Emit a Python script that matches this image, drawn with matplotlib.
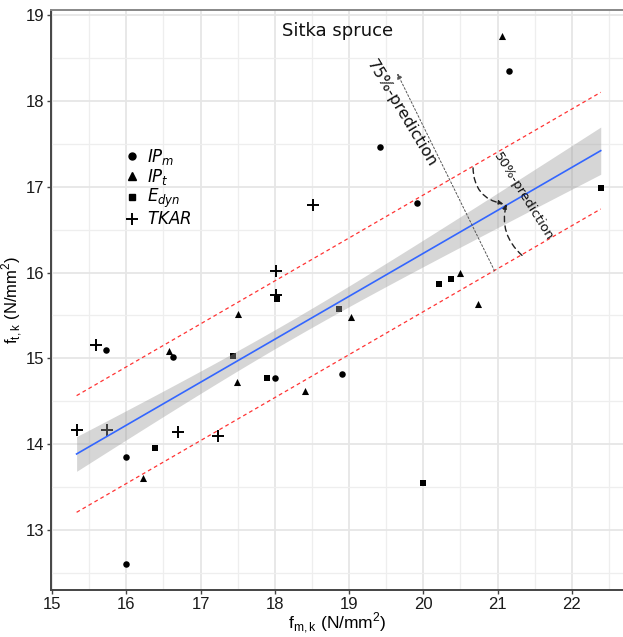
import numpy as np
import matplotlib
matplotlib.use("Agg")
import matplotlib.pyplot as plt
from matplotlib.lines import Line2D

# ---------------- data ----------------
ipm_x = [15.73, 16.63, 15.99, 15.99, 18.00, 18.91, 19.42, 19.91, 21.16]
ipm_y = [15.10, 15.02, 13.85, 12.60, 14.77, 14.82, 17.46, 16.81, 18.35]
ipt_x = [16.58, 17.50, 17.49, 16.22, 18.41, 19.03, 20.50, 20.74, 21.06]
ipt_y = [15.08, 15.52, 14.72, 13.60, 14.62, 15.48, 15.99, 15.63, 18.76]
edyn_x = [16.39, 17.44, 18.03, 17.90, 18.86, 20.21, 20.37, 19.99, 22.39]
edyn_y = [13.95, 15.03, 15.69, 14.77, 15.57, 15.87, 15.93, 13.55, 16.98]
tkar_x = [15.33, 15.59, 15.74, 16.70, 17.24, 18.01, 18.01, 18.51]
tkar_y = [14.16, 15.15, 14.16, 14.14, 14.10, 16.02, 15.74, 16.79]
series_labels = [r"$IP_m$", r"$IP_t$", r"$E_{dyn}$", r"$TKAR$"]
pred_offset = 0.68          # half-width of the prediction band
band_mult = 0.68            # multiplier of the standard error for the grey band
x_ticks = [15, 16, 17, 18, 19, 20, 21, 22]
y_ticks = [13, 14, 15, 16, 17, 18, 19]
title = "Sitka spruce"
xlabel = r"f$_{\mathrm{m,k}}$ (N/mm$^{2}$)"
ylabel = r"f$_{\mathrm{t,k}}$ (N/mm$^{2}$)"

plt.rcParams["mathtext.fontset"] = "custom"
plt.rcParams["mathtext.rm"] = "Liberation Sans"
plt.rcParams["mathtext.it"] = "DejaVu Sans:italic"

W, H = 623, 637
fig = plt.figure(figsize=(W / 100, H / 100), dpi=100)
ax = fig.add_axes([51 / W, (H - 590) / H, (623 - 51) / W, 580 / H])

ax.set_xlim(14.985, 22.69)
ax.set_ylim(12.30, 19.06)

# grid
ax.set_xticks(x_ticks)
ax.set_yticks(y_ticks)
ax.set_xticks(np.arange(15.5, 22.7, 1.0), minor=True)
ax.set_yticks(np.arange(12.5, 19.1, 1.0), minor=True)
ax.grid(True, which="major", color="#e6e6e6", lw=1.3, zorder=0)
ax.grid(True, which="minor", color="#eeeeee", lw=0.9, zorder=0)
ax.set_axisbelow(True)

# points
ms = dict(color="black", zorder=2, linewidths=0)
ax.scatter(ipm_x, ipm_y, marker="o", s=22, **ms)
ax.scatter(ipt_x, ipt_y, marker="^", s=26, **ms)
ax.scatter(edyn_x, edyn_y, marker="s", s=22, **ms)
ax.scatter(tkar_x, tkar_y, marker="+", s=70, color="black", linewidths=1.4, zorder=2)

# regression on pooled data
allx = np.array(ipm_x + ipt_x + edyn_x + tkar_x)
ally = np.array(ipm_y + ipt_y + edyn_y + tkar_y)
b, a = np.polyfit(allx, ally, 1)
n = len(allx)
resid = ally - (a + b * allx)
s = np.sqrt(np.sum(resid ** 2) / (n - 2))
sxx = np.sum((allx - allx.mean()) ** 2)
xx = np.linspace(allx.min(), allx.max(), 200)
yy = a + b * xx
se = s * np.sqrt(1 / n + (xx - allx.mean()) ** 2 / sxx)
ax.fill_between(xx, yy - band_mult * se, yy + band_mult * se, color="#999999", alpha=0.4,
                lw=0, zorder=3)
ax.plot(xx, yy, color="#3366FF", lw=1.2, zorder=4)
ax.plot(xx, yy + pred_offset, color="#ff3333", lw=0.9, ls=(0, (3, 2.5)), zorder=4)
ax.plot(xx, yy - pred_offset, color="#ff3333", lw=0.9, ls=(0, (3, 2.5)), zorder=4)

# annotations
ax.annotate("", xy=(19.65, 18.32), xytext=(20.96, 16.02),
            arrowprops=dict(arrowstyle="-|>", ls=(0, (2, 2)), color="#555555", lw=0.7,
                            mutation_scale=8, shrinkA=0, shrinkB=0), zorder=5)
ax.annotate("", xy=(21.08, 16.80), xytext=(20.67, 17.22),
            arrowprops=dict(arrowstyle="-|>", ls=(0, (4, 3)), color="#222222", lw=1.0,
                            mutation_scale=7, shrinkA=0, shrinkB=0,
                            connectionstyle="arc3,rad=0.4"), zorder=5)
ax.annotate("", xy=(21.12, 16.80), xytext=(21.33, 16.20),
            arrowprops=dict(arrowstyle="-|>", ls=(0, (4, 3)), color="#222222", lw=1.0,
                            mutation_scale=7, shrinkA=0, shrinkB=0,
                            connectionstyle="arc3,rad=-0.3"), zorder=5)
ax.text(19.71, 17.86, "75%-prediction", rotation=-59, rotation_mode="anchor",
        ha="center", va="center", fontsize=11.5, family="DejaVu Sans", color="#111111",
        zorder=6)
ax.text(21.35, 16.88, "50%-prediction", rotation=-58, rotation_mode="anchor",
        ha="center", va="center", fontsize=9.5, family="DejaVu Sans", color="#111111",
        zorder=6)
ax.text(18.85, 18.81, title, ha="center", va="center", fontsize=13,
        family="DejaVu Sans", color="#111111")

# legend
handles = [
    Line2D([], [], ls="", marker="o", color="black", ms=5),
    Line2D([], [], ls="", marker="^", color="black", ms=5.5),
    Line2D([], [], ls="", marker="s", color="black", ms=5),
    Line2D([], [], ls="", marker="+", color="black", ms=9, mew=1.4),
]
leg = ax.legend(handles, series_labels, loc="upper left", bbox_to_anchor=(0.115, 0.775),
                frameon=False, fontsize=12, handlelength=1.0, handletextpad=0.4,
                labelspacing=0.0, borderaxespad=0)

# spines / ticks
ax.spines["right"].set_visible(False)
ax.spines["top"].set_color("#888888")
ax.spines["top"].set_linewidth(1.4)
for sp in ["left", "bottom"]:
    ax.spines[sp].set_color("#444444")
    ax.spines[sp].set_linewidth(1.4)
ax.tick_params(which="major", length=3, width=1, color="#444444", labelsize=12,
               labelcolor="#1a1a1a", pad=2)
ax.tick_params(which="minor", length=0)
for lab in ax.get_xticklabels() + ax.get_yticklabels():
    lab.set_family("Liberation Sans")
ax.set_xlabel(xlabel, fontsize=12.5, family="Liberation Sans", labelpad=-1)
ax.set_ylabel(ylabel, fontsize=12, family="Liberation Sans", labelpad=0.5)

fig.savefig("out.png", dpi=100)
